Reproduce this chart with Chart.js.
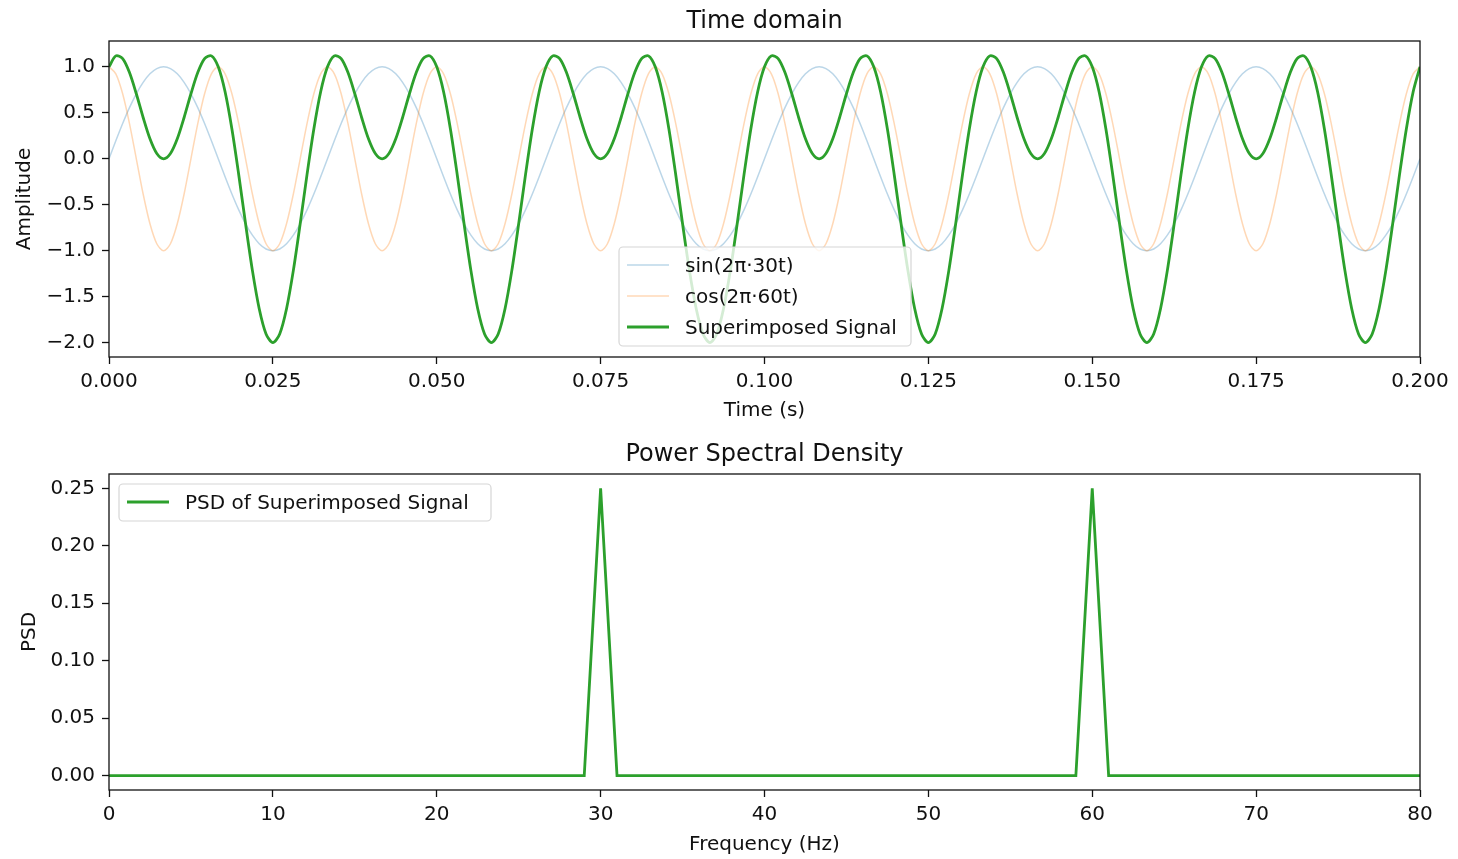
<!DOCTYPE html>
<html>
<head>
<meta charset="utf-8">
<title>Time domain / Power Spectral Density</title>
<script src="https://cdn.jsdelivr.net/npm/chart.js@4.4.1/dist/chart.umd.min.js"></script>
<style>
  html, body { margin: 0; padding: 0; background: #fff; }
  #wrap { position: relative; width: 1458px; height: 859px; }
  #timeChart { position: absolute; left: 0; top: 0; }
  #psdChart { position: absolute; left: 0; top: 433px; }
</style>
</head>
<body>
<div id="wrap">
  <canvas id="timeChart" width="1458" height="430"></canvas>
  <canvas id="psdChart" width="1458" height="426"></canvas>
</div>
<script>
const FONT = "'DejaVu Sans', sans-serif";
const INK = '#111';

// sampling grid for the time plot (0 .. 0.2 s)
const sampleRate = 960;
const t = Array.from({length: 193}, (_, i) => i / sampleRate);

// sin(2π·30t), one line per 1/30 s
const sin30 = [
  0, 0.195, 0.383, 0.556, 0.707, 0.831, 0.924, 0.981, 1, 0.981, 0.924, 0.831, 0.707, 0.556, 0.383, 0.195, 0, -0.195, -0.383, -0.556, -0.707, -0.831, -0.924, -0.981, -1, -0.981, -0.924, -0.831, -0.707, -0.556, -0.383, -0.195,
  0, 0.195, 0.383, 0.556, 0.707, 0.831, 0.924, 0.981, 1, 0.981, 0.924, 0.831, 0.707, 0.556, 0.383, 0.195, 0, -0.195, -0.383, -0.556, -0.707, -0.831, -0.924, -0.981, -1, -0.981, -0.924, -0.831, -0.707, -0.556, -0.383, -0.195,
  0, 0.195, 0.383, 0.556, 0.707, 0.831, 0.924, 0.981, 1, 0.981, 0.924, 0.831, 0.707, 0.556, 0.383, 0.195, 0, -0.195, -0.383, -0.556, -0.707, -0.831, -0.924, -0.981, -1, -0.981, -0.924, -0.831, -0.707, -0.556, -0.383, -0.195,
  0, 0.195, 0.383, 0.556, 0.707, 0.831, 0.924, 0.981, 1, 0.981, 0.924, 0.831, 0.707, 0.556, 0.383, 0.195, 0, -0.195, -0.383, -0.556, -0.707, -0.831, -0.924, -0.981, -1, -0.981, -0.924, -0.831, -0.707, -0.556, -0.383, -0.195,
  0, 0.195, 0.383, 0.556, 0.707, 0.831, 0.924, 0.981, 1, 0.981, 0.924, 0.831, 0.707, 0.556, 0.383, 0.195, 0, -0.195, -0.383, -0.556, -0.707, -0.831, -0.924, -0.981, -1, -0.981, -0.924, -0.831, -0.707, -0.556, -0.383, -0.195,
  0, 0.195, 0.383, 0.556, 0.707, 0.831, 0.924, 0.981, 1, 0.981, 0.924, 0.831, 0.707, 0.556, 0.383, 0.195, 0, -0.195, -0.383, -0.556, -0.707, -0.831, -0.924, -0.981, -1, -0.981, -0.924, -0.831, -0.707, -0.556, -0.383, -0.195,
  0
];

// cos(2π·60t)
const cos60 = [
  1, 0.924, 0.707, 0.383, 0, -0.383, -0.707, -0.924, -1, -0.924, -0.707, -0.383, 0, 0.383, 0.707, 0.924, 1, 0.924, 0.707, 0.383, 0, -0.383, -0.707, -0.924, -1, -0.924, -0.707, -0.383, 0, 0.383, 0.707, 0.924,
  1, 0.924, 0.707, 0.383, 0, -0.383, -0.707, -0.924, -1, -0.924, -0.707, -0.383, 0, 0.383, 0.707, 0.924, 1, 0.924, 0.707, 0.383, 0, -0.383, -0.707, -0.924, -1, -0.924, -0.707, -0.383, 0, 0.383, 0.707, 0.924,
  1, 0.924, 0.707, 0.383, 0, -0.383, -0.707, -0.924, -1, -0.924, -0.707, -0.383, 0, 0.383, 0.707, 0.924, 1, 0.924, 0.707, 0.383, 0, -0.383, -0.707, -0.924, -1, -0.924, -0.707, -0.383, 0, 0.383, 0.707, 0.924,
  1, 0.924, 0.707, 0.383, 0, -0.383, -0.707, -0.924, -1, -0.924, -0.707, -0.383, 0, 0.383, 0.707, 0.924, 1, 0.924, 0.707, 0.383, 0, -0.383, -0.707, -0.924, -1, -0.924, -0.707, -0.383, 0, 0.383, 0.707, 0.924,
  1, 0.924, 0.707, 0.383, 0, -0.383, -0.707, -0.924, -1, -0.924, -0.707, -0.383, 0, 0.383, 0.707, 0.924, 1, 0.924, 0.707, 0.383, 0, -0.383, -0.707, -0.924, -1, -0.924, -0.707, -0.383, 0, 0.383, 0.707, 0.924,
  1, 0.924, 0.707, 0.383, 0, -0.383, -0.707, -0.924, -1, -0.924, -0.707, -0.383, 0, 0.383, 0.707, 0.924, 1, 0.924, 0.707, 0.383, 0, -0.383, -0.707, -0.924, -1, -0.924, -0.707, -0.383, 0, 0.383, 0.707, 0.924,
  1
];

// sum of the two
const superimposed = [
  1, 1.119, 1.090, 0.938, 0.707, 0.449, 0.217, 0.057, 0, 0.057, 0.217, 0.449, 0.707, 0.938, 1.090, 1.119, 1, 0.729, 0.324, -0.173, -0.707, -1.214, -1.631, -1.905, -2, -1.905, -1.631, -1.214, -0.707, -0.173, 0.324, 0.729,
  1, 1.119, 1.090, 0.938, 0.707, 0.449, 0.217, 0.057, 0, 0.057, 0.217, 0.449, 0.707, 0.938, 1.090, 1.119, 1, 0.729, 0.324, -0.173, -0.707, -1.214, -1.631, -1.905, -2, -1.905, -1.631, -1.214, -0.707, -0.173, 0.324, 0.729,
  1, 1.119, 1.090, 0.938, 0.707, 0.449, 0.217, 0.057, 0, 0.057, 0.217, 0.449, 0.707, 0.938, 1.090, 1.119, 1, 0.729, 0.324, -0.173, -0.707, -1.214, -1.631, -1.905, -2, -1.905, -1.631, -1.214, -0.707, -0.173, 0.324, 0.729,
  1, 1.119, 1.090, 0.938, 0.707, 0.449, 0.217, 0.057, 0, 0.057, 0.217, 0.449, 0.707, 0.938, 1.090, 1.119, 1, 0.729, 0.324, -0.173, -0.707, -1.214, -1.631, -1.905, -2, -1.905, -1.631, -1.214, -0.707, -0.173, 0.324, 0.729,
  1, 1.119, 1.090, 0.938, 0.707, 0.449, 0.217, 0.057, 0, 0.057, 0.217, 0.449, 0.707, 0.938, 1.090, 1.119, 1, 0.729, 0.324, -0.173, -0.707, -1.214, -1.631, -1.905, -2, -1.905, -1.631, -1.214, -0.707, -0.173, 0.324, 0.729,
  1, 1.119, 1.090, 0.938, 0.707, 0.449, 0.217, 0.057, 0, 0.057, 0.217, 0.449, 0.707, 0.938, 1.090, 1.119, 1, 0.729, 0.324, -0.173, -0.707, -1.214, -1.631, -1.905, -2, -1.905, -1.631, -1.214, -0.707, -0.173, 0.324, 0.729,
  1
];

// PSD, 1 Hz bins
const freqHz = [
  0, 1, 2, 3, 4, 5, 6, 7, 8, 9, 10, 11, 12, 13, 14, 15, 16, 17, 18, 19,
  20, 21, 22, 23, 24, 25, 26, 27, 28, 29, 30, 31, 32, 33, 34, 35, 36, 37, 38, 39,
  40, 41, 42, 43, 44, 45, 46, 47, 48, 49, 50, 51, 52, 53, 54, 55, 56, 57, 58, 59,
  60, 61, 62, 63, 64, 65, 66, 67, 68, 69, 70, 71, 72, 73, 74, 75, 76, 77, 78, 79,
  80
];
const psd = [
  0, 0, 0, 0, 0, 0, 0, 0, 0, 0, 0, 0, 0, 0, 0, 0, 0, 0, 0, 0,
  0, 0, 0, 0, 0, 0, 0, 0, 0, 0, 0.25, 0, 0, 0, 0, 0, 0, 0, 0, 0,
  0, 0, 0, 0, 0, 0, 0, 0, 0, 0, 0, 0, 0, 0, 0, 0, 0, 0, 0, 0,
  0.25, 0, 0, 0, 0, 0, 0, 0, 0, 0, 0, 0, 0, 0, 0, 0, 0, 0, 0, 0,
  0
];

// ticks
const timeTicks = [0, 0.025, 0.05, 0.075, 0.1, 0.125, 0.15, 0.175, 0.2];
const timeTickLabels = ['0.000', '0.025', '0.050', '0.075', '0.100', '0.125', '0.150', '0.175', '0.200'];
const ampTicks = [-2, -1.5, -1, -0.5, 0, 0.5, 1];
const ampTickLabels = ['\u22122.0', '\u22121.5', '\u22121.0', '\u22120.5', '0.0', '0.5', '1.0'];
const freqTicks = [0, 10, 20, 30, 40, 50, 60, 70, 80];
const freqTickLabels = ['0', '10', '20', '30', '40', '50', '60', '70', '80'];
const psdTicks = [0, 0.05, 0.1, 0.15, 0.2, 0.25];
const psdTickLabels = ['0.00', '0.05', '0.10', '0.15', '0.20', '0.25'];

const font20 = {family: FONT, size: 20};

// axes box + legend drawn inside the plot area
const frameAndLegend = {
  id: 'frameAndLegend',
  afterDatasetsDraw(chart) {
    const {ctx, chartArea: a} = chart;
    ctx.save();
    ctx.strokeStyle = INK;
    ctx.lineWidth = 1.3;
    ctx.strokeRect(a.left, a.top, a.right - a.left, a.bottom - a.top);
    ctx.restore();
  },
  afterDraw(chart, args, opts) {
    const {ctx, chartArea: a} = chart;
    const b = opts.box;
    const x = a.left + b.x, y = a.top + b.y;
    ctx.save();
    ctx.beginPath();
    ctx.roundRect(x, y, b.w, b.h, 4);
    ctx.fillStyle = 'rgba(255,255,255,0.8)';
    ctx.fill();
    ctx.strokeStyle = '#d6d6d6';
    ctx.lineWidth = 1.2;
    ctx.stroke();
    ctx.font = `20px ${FONT}`;
    ctx.textBaseline = 'middle';
    chart.data.datasets.forEach((ds, i) => {
      const ry = y + 18 + i * 31;
      ctx.beginPath();
      ctx.moveTo(x + 8, ry);
      ctx.lineTo(x + 50, ry);
      ctx.strokeStyle = ds.borderColor;
      ctx.lineWidth = ds.borderWidth;
      ctx.stroke();
      ctx.fillStyle = INK;
      ctx.fillText(ds.label, x + 66, ry + 1.5);
    });
    ctx.restore();
  }
};

function xAxis(min, max, ticks, labels, title, height, titleGap) {
  return {
    type: 'linear', min, max,
    afterBuildTicks: s => { s.ticks = ticks.map(v => ({value: v})); },
    afterFit: s => { s.height = height; },
    ticks: {callback: (v, i) => labels[i], font: font20, color: INK, padding: 6, autoSkip: false, maxRotation: 0},
    grid: {drawOnChartArea: false, tickLength: 7, tickColor: INK, tickWidth: 1.3},
    border: {display: false},
    title: {display: true, text: title, font: font20, color: INK, padding: {top: 0, bottom: titleGap}}
  };
}

function yAxis(min, max, ticks, labels, title, titleGap) {
  return {
    min, max,
    afterBuildTicks: s => { s.ticks = ticks.map(v => ({value: v})); },
    afterFit: s => { s.width = 109; },
    ticks: {callback: (v, i) => labels[i], font: font20, color: INK, padding: 7, autoSkip: false},
    grid: {drawOnChartArea: false, tickLength: 7, tickColor: INK, tickWidth: 1.3},
    border: {display: false},
    title: {display: true, text: title, font: font20, color: INK, padding: {top: titleGap, bottom: 0}}
  };
}

function titleOpts(text) {
  return {
    display: true, text, color: INK, fullSize: false,
    font: {family: FONT, size: 24, weight: 'normal'},
    padding: {top: 7.6, bottom: 4.6}
  };
}

const pts = (xs, ys) => xs.map((x, i) => ({x, y: ys[i]}));

new Chart(document.getElementById('timeChart'), {
  type: 'line',
  data: {
    datasets: [
      {label: 'sin(2\u03c0\u00b730t)', data: pts(t, sin30), borderColor: 'rgba(31,119,180,0.3)', borderWidth: 1.5, order: 2},
      {label: 'cos(2\u03c0\u00b760t)', data: pts(t, cos60), borderColor: 'rgba(255,127,14,0.3)', borderWidth: 1.5, order: 1},
      {label: 'Superimposed Signal', data: pts(t, superimposed), borderColor: '#2ca02c', borderWidth: 2.8, order: 0}
    ]
  },
  options: {
    responsive: false, animation: false,
    layout: {padding: {left: 0, right: 38, top: 0, bottom: 0}},
    elements: {point: {radius: 0}, line: {tension: 0.3}},
    scales: {
      x: xAxis(0, 0.2, timeTicks, timeTickLabels, 'Time (s)', 73, 7),
      y: yAxis(-2.156, 1.281, ampTicks, ampTickLabels, 'Amplitude', 12.5)
    },
    plugins: {
      legend: {display: false},
      tooltip: {enabled: false},
      title: titleOpts('Time domain'),
      frameAndLegend: {box: {x: 510, y: 206, w: 292, h: 99}}
    }
  },
  plugins: [frameAndLegend]
});

new Chart(document.getElementById('psdChart'), {
  type: 'line',
  data: {
    datasets: [
      {label: 'PSD of Superimposed Signal', data: pts(freqHz, psd), borderColor: '#2ca02c', borderWidth: 2.8, tension: 0}
    ]
  },
  options: {
    responsive: false, animation: false,
    layout: {padding: {left: 0, right: 38, top: 0, bottom: 0}},
    elements: {point: {radius: 0}},
    scales: {
      x: xAxis(0, 80, freqTicks, freqTickLabels, 'Frequency (Hz)', 69, 2),
      y: yAxis(-0.0125, 0.2625, psdTicks, psdTickLabels, 'PSD', 18)
    },
    plugins: {
      legend: {display: false},
      tooltip: {enabled: false},
      title: titleOpts('Power Spectral Density'),
      frameAndLegend: {box: {x: 10, y: 10, w: 372, h: 37}}
    }
  },
  plugins: [frameAndLegend]
});
</script>
</body>
</html>
